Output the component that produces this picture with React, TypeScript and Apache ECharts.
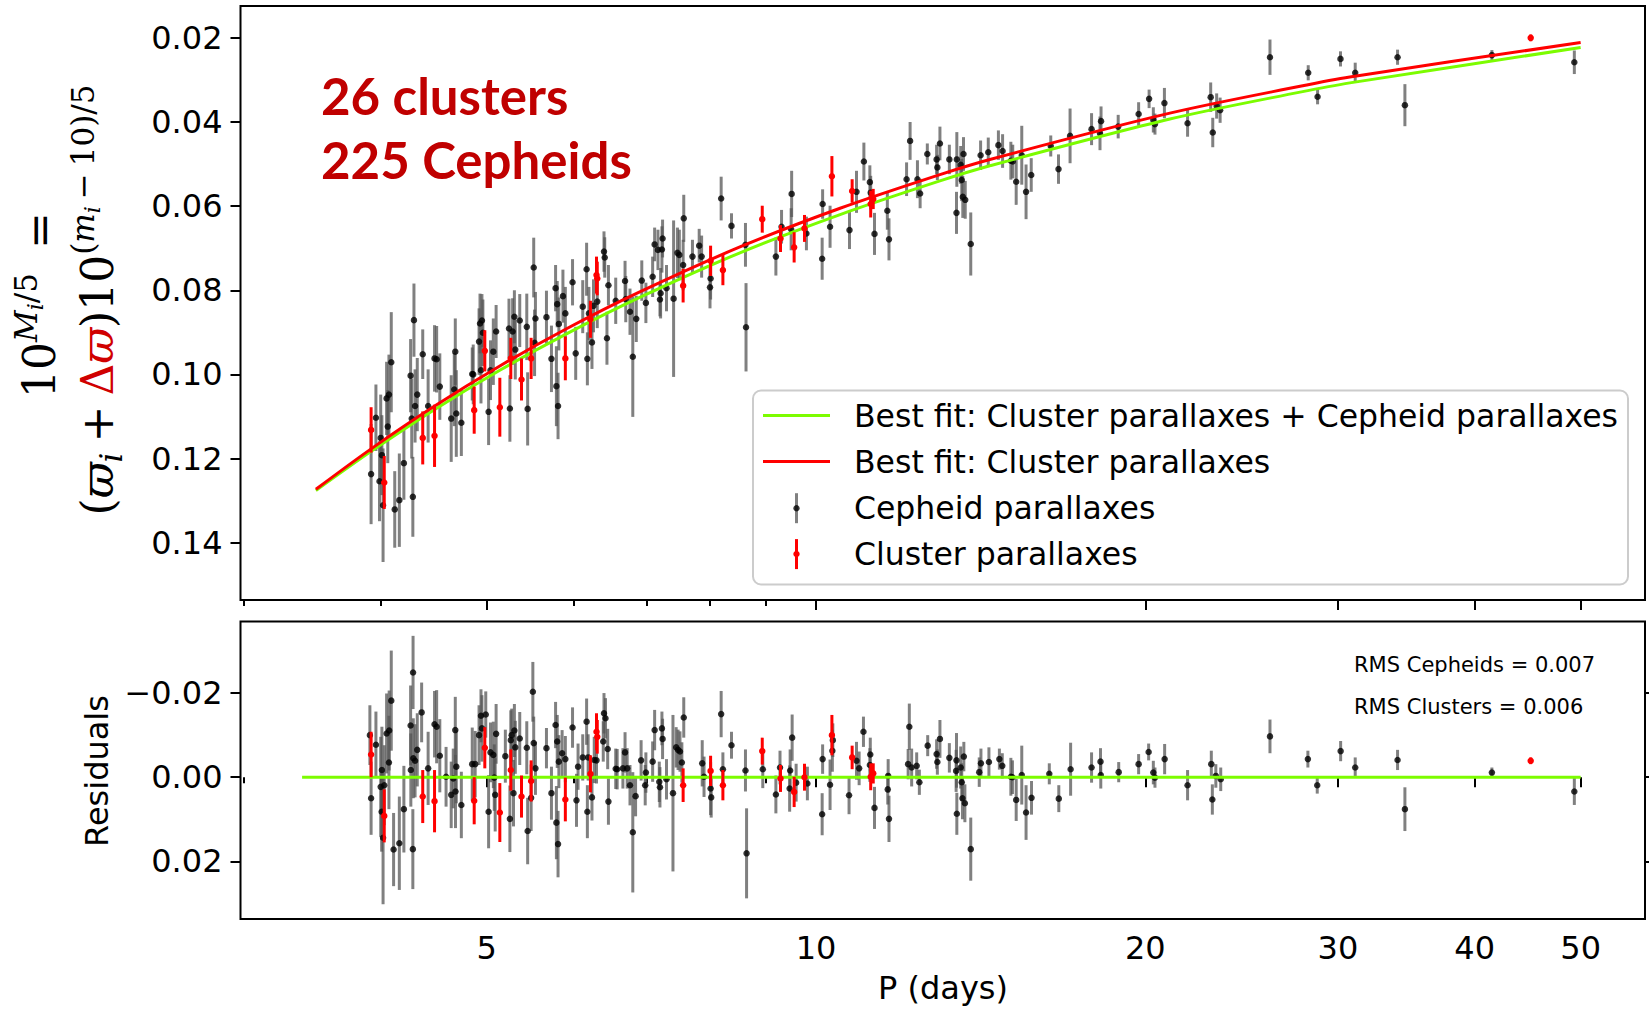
import React, { useEffect, useRef } from "react";
import * as echarts from "echarts";

// ---------- Top panel: Cepheid parallaxes (P in days, value, error) ----------
const cephP = [
  3.92, 3.96, 4.0, 4.01, 3.99, 4.02, 4.05, 4.07, 4.06, 4.09,
  4.12, 4.16, 4.2, 4.26, 4.27, 4.28, 4.29, 4.3, 4.32, 4.37,
  4.42, 4.48, 4.5, 4.53, 4.64, 4.67, 4.68, 4.69, 4.74, 4.85,
  4.86, 4.92, 4.93, 4.95, 4.94, 4.96, 5.02, 5.04, 5.07, 5.1,
  5.25, 5.24, 5.28, 5.3, 5.31, 5.36, 5.44, 5.45, 5.52, 5.54,
  5.53, 5.67, 5.73, 5.79, 5.81, 5.78, 5.8, 5.87, 5.82, 5.9,
  5.99, 6.03, 6.12, 6.17, 6.18, 6.2, 6.24, 6.26, 6.31, 6.4,
  6.41, 6.46, 6.44, 6.56, 6.69, 6.7, 6.76, 6.8, 6.85, 6.93,
  6.99, 7.09, 7.12, 7.17,
  7.2, 7.21, 7.23, 7.24, 7.3, 7.41, 7.47, 7.5, 7.57, 7.56,
  7.71, 7.82, 7.86, 8.0, 8.01, 8.19, 8.37, 8.63, 8.62, 9.19,
  9.3, 9.5, 9.49, 9.8, 10.14, 10.13, 10.3, 10.73, 10.89, 11.06,
  11.2, 11.22, 11.31, 11.62, 11.66, 12.1, 12.19, 12.38, 12.45, 12.64,
  12.89, 12.91, 12.98, 13.24, 13.45, 13.44, 13.56, 13.59, 13.62, 13.69,
  13.64, 13.85, 14.14, 14.37, 14.68,
  14.81, 15.07, 15.13, 15.24, 15.42, 15.56, 15.73, 16.39, 16.66, 17.07,
  17.86, 18.18, 18.22, 18.89, 19.72, 20.16, 20.34, 20.41, 20.82, 21.86,
  22.95, 23.05, 23.24, 23.41, 26.0,
  28.18, 28.74, 30.16, 31.11, 34.01, 34.54, 41.48, 49.34,
];
const cephY = [
  0.1237, 0.1103, 0.1151, 0.1192, 0.1254, 0.1311, 0.1057, 0.1048, 0.1124, 0.0971,
  0.1321, 0.1299, 0.1211, 0.1003, 0.1105, 0.1291, 0.0871, 0.1075, 0.1048, 0.0952,
  0.1075, 0.0962, 0.0964, 0.1029, 0.1105, 0.1036, 0.0946, 0.1093, 0.1115, 0.0999,
  0.1, 0.0922, 0.0879, 0.0872, 0.099, 0.0901, 0.1089, 0.099, 0.0946, 0.0898,
  0.1081, 0.0891, 0.0898, 0.0863, 0.0941, 0.0872, 0.0887, 0.1082, 0.0746, 0.0867,
  0.0925, 0.0864, 0.0963, 0.1028, 0.1075, 0.0795, 0.0833, 0.0814, 0.088, 0.0855,
  0.0781, 0.095, 0.0839, 0.075, 0.0963, 0.0855, 0.0924, 0.0837, 0.0827, 0.0708,
  0.0722, 0.0788, 0.0914, 0.0825, 0.0778, 0.0821, 0.0851, 0.0958, 0.0868, 0.0777,
  0.083, 0.0768, 0.0691, 0.0704,
  0.0822, 0.0807, 0.0703, 0.0677, 0.0795, 0.082, 0.0711, 0.0716, 0.0629, 0.074,
  0.072, 0.0694, 0.072, 0.0793, 0.0772, 0.0582, 0.0647, 0.0888, 0.0692, 0.072,
  0.0649, 0.0571, 0.0655, 0.0665, 0.0595, 0.0725, 0.0649, 0.0657, 0.0566, 0.0494,
  0.0543, 0.0568, 0.0666, 0.0611, 0.0679, 0.0536, 0.0445, 0.0536, 0.057, 0.0476,
  0.0489, 0.0508, 0.0451, 0.0489, 0.0489, 0.0616, 0.0502, 0.0538, 0.0578, 0.0585,
  0.0476, 0.069, 0.0479, 0.0472, 0.0455,
  0.0469, 0.0492, 0.0494, 0.0542, 0.0479, 0.0566, 0.0526, 0.0457, 0.0512, 0.0433,
  0.0417, 0.0427, 0.0398, 0.0411, 0.0381, 0.0345, 0.0395, 0.0405, 0.0355, 0.0403,
  0.0341, 0.0425, 0.0362, 0.0372, 0.0246,
  0.0283, 0.034, 0.025, 0.0283, 0.0246, 0.036, 0.0241, 0.0258,
];
const cephErr = [
  0.0119, 0.0079, 0.0103, 0.0095, 0.0095, 0.0135, 0.0087, 0.0095, 0.0087, 0.0119,
  0.0091, 0.0111, 0.0087, 0.0087, 0.0095, 0.0095, 0.0087, 0.0087, 0.0087, 0.0059,
  0.0087, 0.0079, 0.0079, 0.0079, 0.0103, 0.0087, 0.0079, 0.0103, 0.0079, 0.0063,
  0.0071, 0.0079, 0.0071, 0.0063, 0.0079, 0.0079, 0.0079, 0.0071, 0.0079, 0.0063,
  0.0079, 0.0071, 0.0079, 0.0063, 0.0071, 0.0063, 0.0079, 0.0087, 0.0071, 0.0063,
  0.0079, 0.0063, 0.0079, 0.0095, 0.0079, 0.0055, 0.0055, 0.0063, 0.0063, 0.0063,
  0.0055, 0.0063, 0.0063, 0.0063, 0.0063, 0.0063, 0.0063, 0.0063, 0.0063, 0.0048,
  0.0048, 0.0048, 0.0063, 0.0055, 0.0048, 0.0055, 0.0055, 0.0143, 0.0055, 0.0048,
  0.0048, 0.0048, 0.004, 0.0048,
  0.004, 0.006, 0.0055, 0.0045, 0.0055, 0.0186, 0.006, 0.006, 0.0056, 0.006,
  0.004, 0.004, 0.005, 0.005, 0.005, 0.0052, 0.003, 0.0105, 0.0052, 0.0045,
  0.004, 0.0055, 0.005, 0.004, 0.0035, 0.005, 0.005, 0.0045, 0.005, 0.0045,
  0.004, 0.004, 0.005, 0.0045, 0.005, 0.004, 0.0045, 0.0045, 0.0035, 0.0025,
  0.0035, 0.003, 0.004, 0.0035, 0.0065, 0.005, 0.0045, 0.005, 0.005, 0.0045,
  0.004, 0.0075, 0.0035, 0.0035, 0.0035,
  0.004, 0.0045, 0.004, 0.0055, 0.007, 0.0065, 0.004, 0.0025, 0.0035, 0.0065,
  0.0038, 0.004, 0.0035, 0.0028, 0.0028, 0.0022, 0.003, 0.0025, 0.0036, 0.0032,
  0.0035, 0.0035, 0.003, 0.003, 0.0042,
  0.0018, 0.0018, 0.0018, 0.0024, 0.0018, 0.005, 0.0012, 0.0028,
];

// ---------- Top panel: cluster parallaxes ----------
const clusP = [
  3.92, 4.03, 4.37, 4.48, 4.87, 4.98, 5.14, 5.26, 5.38, 5.49,
  5.9, 6.22, 6.3, 6.31, 7.56, 8.01, 8.22, 8.93, 9.28, 9.55,
  9.76, 10.34, 10.79, 11.22, 11.28, 45.01,
];
const clusY = [
  0.1132, 0.1257, 0.1151, 0.1146, 0.1085, 0.0944, 0.1078, 0.0962, 0.1012, 0.0962,
  0.0962, 0.0869, 0.0764, 0.0772, 0.0789, 0.073, 0.0752, 0.0631, 0.0677, 0.0698,
  0.0653, 0.0529, 0.0564, 0.0595, 0.0583, 0.02,
];
const clusErr = [
  0.0054, 0.0063, 0.0063, 0.0074, 0.0056, 0.0049, 0.007, 0.0049, 0.005, 0.0049,
  0.0052, 0.0044, 0.0044, 0.004, 0.004, 0.0036, 0.0036, 0.0032, 0.0032, 0.0036,
  0.0032, 0.0048, 0.0028, 0.0032, 0.0024, 0.0008,
];

// ---------- Best-fit curves ----------
const fitP = [3.49, 3.92, 4.47, 5.14, 5.92, 6.9, 8.52, 10.52, 12.98, 14.42, 21.06, 27.7, 30.76, 50.0];
const fitBoth = [0.1276, 0.1183, 0.1085, 0.099, 0.0903, 0.0817, 0.0711, 0.062, 0.054, 0.0504, 0.0393, 0.0329, 0.0307, 0.0223];
const fitClusters = [0.1273, 0.1177, 0.1077, 0.098, 0.0891, 0.0804, 0.0697, 0.0605, 0.0525, 0.0489, 0.0379, 0.0315, 0.0293, 0.0211];

// ---------- Bottom panel: residuals of Cepheids ----------
const resP = [
  3.92, 3.91, 3.96, 4.0, 4.01, 4.008, 4.02, 4.03, 4.05, 4.07,
  4.072, 4.09, 4.11, 4.16, 4.2, 4.26, 4.262, 4.28, 4.282, 4.284,
  4.3, 4.32, 4.36, 4.42, 4.48, 4.5, 4.53, 4.59, 4.64, 4.66,
  4.68, 4.682, 4.69, 4.74, 4.85, 4.88, 4.92, 4.94, 4.95, 4.99,
  5.02, 5.04, 5.07, 5.08, 5.09, 5.1, 5.2, 5.25, 5.26, 5.27,
  5.29, 5.3, 5.31, 5.36, 5.44, 5.45, 5.49, 5.51, 5.52, 5.54,
  5.67, 5.73, 5.78, 5.79, 5.8, 5.81, 5.82, 5.86, 5.9, 5.99,
  6.04, 6.06, 6.12, 6.17, 6.18, 6.19, 6.24, 6.27, 6.3, 6.39,
  6.4, 6.42, 6.45, 6.46, 6.56, 6.58, 6.66, 6.69, 6.72, 6.76,
  6.8, 6.84, 6.92, 6.98, 6.99, 7.09, 7.12, 7.19, 7.2, 7.23,
  7.24, 7.3, 7.4, 7.45, 7.48, 7.51, 7.54, 7.57,
  7.87, 7.9, 8.01, 8.02, 8.19, 8.22, 8.37, 8.62, 8.64, 8.94,
  9.19, 9.27, 9.47, 9.46, 9.51, 9.59, 9.82, 10.14, 10.13, 10.3,
  10.35, 10.36, 10.72, 10.89, 10.95, 11.05, 11.21, 11.2, 11.31, 11.63,
  11.66, 11.64, 12.14, 12.17, 12.23, 12.36, 12.43, 12.65, 12.89, 12.91,
  12.98, 13.24, 13.44, 13.43, 13.45, 13.56, 13.59, 13.65, 13.61, 13.68,
  13.85, 14.1, 14.15, 14.39, 14.71, 14.8, 15.07, 15.12, 15.24, 15.42,
  15.56, 15.74, 16.34, 16.67, 17.09, 17.86, 18.2, 18.21, 18.91, 19.72,
  20.14, 20.34, 20.41, 20.83, 21.86, 22.98, 23.03, 23.2, 23.44, 26.0,
  28.16, 28.72, 30.17, 31.11, 34.01, 34.54, 41.48, 49.34,
];
const resV = [
  0.005, -0.01, -0.0077, 0.0023, -0.0017, 0.0082, 0.0144, 0.0019, -0.0104, -0.0035,
  -0.0111, -0.0182, 0.0172, 0.0157, 0.0076, -0.0123, -0.0017, 0.0171, -0.0249, -0.0045,
  -0.0039, -0.0065, -0.0154, -0.0021, -0.0126, -0.012, -0.0051, -0.0001, 0.0042, 0.0003,
  -0.0112, 0.0034, -0.0025, 0.0066, -0.0031, -0.0031, -0.01, -0.0146, -0.0116, -0.0149,
  0.0082, -0.0059, -0.0053, 0.0001, 0.0042, -0.0103, -0.005, 0.0099, -0.0088, -0.01,
  0.0038, -0.0111, -0.0071, -0.0092, -0.007, 0.0128, 0.0049, -0.0203, -0.0081, -0.0021,
  -0.0069, 0.0038, -0.0124, 0.0108, -0.0085, 0.0159, -0.0037, -0.0057, -0.0043, -0.0118,
  0.0055, -0.0025, -0.0047, -0.0132, 0.0082, -0.0047, 0.0048, -0.0041, -0.004, -0.0085,
  -0.0152, -0.014, -0.0067, 0.0058, -0.002, -0.0019, -0.0021, -0.0059, -0.0021, 0.0019,
  0.0131, 0.0045, -0.004, 0.0019, -0.0011, -0.0037, -0.0112, 0.0011, 0.0024, -0.0116,
  -0.0091, 0.0005, 0.0038, -0.0071, -0.0065, -0.0061, -0.0035, -0.0142,
  -0.0033, -0.0001, 0.0027, 0.0048, -0.015, -0.0019, -0.0076, -0.0016, 0.0181, -0.0019,
  0.0041, -0.0023, -0.0016, 0.0027, -0.0094, 0.0013, 0.0015, -0.0043, 0.0088, 0.0018,
  -0.0063, -0.0088, 0.0043, -0.0039, -0.0021, -0.0108, -0.0054, -0.0029, 0.0073, 0.0029,
  0.0099, -0.0003, -0.0031, -0.012, -0.0023, -0.0027, 0.0012, -0.0075, -0.0055, -0.0036,
  -0.0091, -0.0046, -0.004, -0.0015, 0.0087, -0.0023, 0.0012, -0.0049, 0.005, 0.0062,
  0.0171, -0.0012, -0.0033, -0.0036, -0.0043, -0.0027, -0.0001, 0.0, 0.0054, -0.0005,
  0.0084, 0.0049, -0.0008, 0.0051, -0.0019, -0.0023, -0.0037, -0.0005, -0.0012, -0.0031,
  -0.006, -0.0011, 0.0001, -0.0043, 0.0019, -0.0031, 0.0053, -0.0003, 0.0005, -0.0097,
  -0.0043, 0.0019, -0.0062, -0.0023, -0.0041, 0.0076, -0.0011, 0.0034,
];
const resErr = [
  0.0087, 0.0071, 0.0079, 0.0119, 0.0103, 0.0095, 0.0158, 0.0095, 0.0095, 0.0111,
  0.0095, 0.0119, 0.0087, 0.0111, 0.0103, 0.0095, 0.0087, 0.0095, 0.0087, 0.0095,
  0.0087, 0.0087, 0.0071, 0.0087, 0.0079, 0.0087, 0.0087, 0.0071, 0.0079, 0.0071,
  0.0079, 0.0087, 0.0087, 0.0079, 0.0087, 0.0079, 0.0071, 0.0063, 0.0079, 0.0055,
  0.0087, 0.0071, 0.0079, 0.0079, 0.0087, 0.0071, 0.0063, 0.0079, 0.0071, 0.0063,
  0.0079, 0.0063, 0.0063, 0.0063, 0.0063, 0.0079, 0.0079, 0.0071, 0.0063, 0.0063,
  0.0048, 0.0063, 0.0055, 0.0087, 0.0063, 0.0079, 0.0063, 0.0055, 0.0055, 0.0048,
  0.0063, 0.0055, 0.0055, 0.0055, 0.0063, 0.0055, 0.0055, 0.0055, 0.0055, 0.0048,
  0.0048, 0.0048, 0.0048, 0.0055, 0.0048, 0.0048, 0.0048, 0.0048, 0.0048, 0.0048,
  0.0143, 0.0048, 0.0048, 0.0048, 0.0048, 0.0048, 0.0048, 0.0048, 0.0048, 0.004,
  0.0048, 0.0048, 0.0186, 0.0048, 0.0048, 0.0048, 0.0048, 0.0048,
  0.0055, 0.0048, 0.0063, 0.0048, 0.0055, 0.004, 0.0032, 0.005, 0.0107, 0.0045,
  0.0045, 0.004, 0.005, 0.0055, 0.0055, 0.0045, 0.004, 0.0035, 0.005, 0.006,
  0.005, 0.004, 0.0045, 0.0045, 0.004, 0.0036, 0.004, 0.004, 0.005, 0.0036,
  0.0055, 0.004, 0.0036, 0.0055, 0.0045, 0.0032, 0.003, 0.0025, 0.0035, 0.003,
  0.0045, 0.0035, 0.0065, 0.005, 0.005, 0.005, 0.0045, 0.0035, 0.005, 0.0045,
  0.0075, 0.0035, 0.0035, 0.0035, 0.0025, 0.003, 0.0045, 0.004, 0.005, 0.007,
  0.0065, 0.004, 0.0025, 0.0032, 0.0063, 0.0036, 0.0032, 0.0032, 0.0024, 0.0024,
  0.002, 0.0028, 0.0024, 0.0036, 0.0036, 0.0032, 0.0036, 0.0028, 0.0028, 0.004,
  0.002, 0.002, 0.0024, 0.0024, 0.0024, 0.0052, 0.0012, 0.0032,
];

// ---------- Bottom panel: residuals of clusters (same P / errors as clusP) ----------
const resClusV = [
  -0.0054, 0.0092, 0.0046, 0.0057, 0.0056, -0.007, 0.0084, -0.0017, 0.0046, 0.0009,
  0.0053, -0.0008, -0.0108, -0.0096, 0.0019, -0.0015, 0.0019, -0.0062, 0.0003, 0.0035,
  0.0, -0.01, -0.0047, -0.0001, -0.0009, -0.0039,
];
const resLineP = [3.39, 50.0];
const resLineV = [0, 0];

// ---------- Ticks ----------
const xMajorTicks = [5, 10, 20, 30, 40, 50];
const xMinorTicks = [3, 4, 6, 7, 8, 9];
const yTopTicks = [0.02, 0.04, 0.06, 0.08, 0.1, 0.12, 0.14];
const yResTicks = [-0.02, 0, 0.02];

const L = (p: number) => Math.log10(p);
const FONT = "DejaVu Sans";
const SERIF = "DejaVu Serif";

type Piece = { t?: string; size?: number; it?: boolean; color?: string; shift?: number; gap?: number };

// Y-axis label, written as math pieces (text, size, italic, baseline shift)
const ylabelLine1: Piece[] = [
  { t: "10", size: 44 },
  { t: "M", size: 31, it: true, shift: -18 },
  { t: "i", size: 22, it: true, shift: -12 },
  { t: "/5", size: 31, shift: -18 },
  { gap: 24 },
  { t: "=", size: 44 },
];
const ylabelLine2: Piece[] = [
  { t: "(", size: 44 },
  { t: "\u03D6", size: 44, it: true },
  { t: "i", size: 31, it: true, shift: 9 },
  { gap: 10 },
  { t: "+", size: 44 },
  { gap: 10 },
  { t: "\u0394", size: 44, color: "#d00000" },
  { t: "\u03D6", size: 44, it: true, color: "#d00000" },
  { t: ")", size: 44 },
  { t: "10", size: 44 },
  { t: "(", size: 31, shift: -19 },
  { t: "m", size: 31, it: true, shift: -19 },
  { t: "i", size: 22, it: true, shift: -13 },
  { gap: 7 },
  { t: "\u2212", size: 31, shift: -19 },
  { gap: 7 },
  { t: "10", size: 31, shift: -19 },
  { t: ")", size: 31, shift: -19 },
  { t: "/5", size: 31, shift: -19 },
];

function mathGroup(pieces: Piece[], baseX: number, centerY: number) {
  const ctx = document.createElement("canvas").getContext("2d")!;
  let pos = 0;
  const children: any[] = [];
  for (const p of pieces) {
    if (p.gap) {
      pos += p.gap;
      continue;
    }
    const size = p.size || 44;
    const font = `${p.it ? "italic " : ""}${size}px "${SERIF}"`;
    ctx.font = font;
    const w = ctx.measureText(p.t || "").width;
    children.push({
      type: "text",
      x: pos,
      y: (p.shift || 0) - 0.35 * size,
      style: {
        text: p.t,
        fill: p.color || "#000",
        fontSize: size,
        fontFamily: SERIF,
        fontStyle: p.it ? "italic" : "normal",
        align: "left",
        verticalAlign: "middle",
        textAlign: "left",
        textVerticalAlign: "middle",
      },
    });
    pos += w;
  }
  return { type: "group", x: baseX, y: centerY + pos / 2, rotation: Math.PI / 2, z: 50, children };
}

export default function App() {
  const ref = useRef<HTMLDivElement>(null);
  useEffect(() => {
    if (!ref.current) return;
    const chart = echarts.init(ref.current, null, { renderer: "svg" });

    const rows = (P: number[], Y: number[], E: number[]) => P.map((p, i) => [L(p), Y[i], E[i]]);
    const topCeph = rows(cephP, cephY, cephErr);
    const topClus = rows(clusP, clusY, clusErr);
    const botCeph = rows(resP, resV, resErr);
    const botClus = rows(clusP, resClusV, clusErr);

    const errSeries = (data: number[][], xi: number, yi: number, color: string, opacity: number, z: number) => ({
      type: "custom",
      xAxisIndex: xi,
      yAxisIndex: yi,
      silent: true,
      z,
      data,
      encode: { x: 0, y: 1 },
      renderItem: (_p: any, api: any) => {
        const x = api.value(0), y = api.value(1), e = api.value(2);
        const a = api.coord([x, y - e]);
        const b = api.coord([x, y + e]);
        return {
          type: "line",
          shape: { x1: a[0], y1: a[1], x2: b[0], y2: b[1] },
          style: { stroke: color, lineWidth: 3, opacity },
        };
      },
    });
    const dotSeries = (data: number[][], xi: number, yi: number, color: string, opacity: number, z: number) => ({
      type: "scatter",
      xAxisIndex: xi,
      yAxisIndex: yi,
      silent: true,
      z,
      symbolSize: 6.5,
      itemStyle: { color, opacity },
      data: data.map((r) => [r[0], r[1]]),
    });

    const tickLine = { color: "#000", width: 2 };
    const xBase = (grid: number, ticks: number[], len: number, labels: boolean) => ({
      gridIndex: grid,
      type: "value",
      position: "bottom",
      min: 0.4739,
      max: 1.7578,
      axisLine: { show: false },
      splitLine: { show: false },
      axisTick: { show: true, customValues: ticks.map(L), length: len, lineStyle: tickLine },
      axisLabel: labels
        ? {
            show: true,
            customValues: ticks.map(L),
            formatter: (v: number) => String(Math.round(Math.pow(10, v))),
            fontSize: 32,
            fontFamily: FONT,
            color: "#000",
            margin: 13,
          }
        : { show: false },
    });

    const legendRows = [415.6, 461.5, 508.2, 554.1];
    const legendText = (t: string, y: number) => ({
      type: "text",
      x: 854,
      y,
      z: 101,
      style: { text: t, fill: "#000", fontSize: 31.5, fontFamily: FONT, align: "left", verticalAlign: "middle", textAlign: "left", textVerticalAlign: "middle" },
    });

    const option: any = {
      animation: false,
      backgroundColor: "#fff",
      textStyle: { fontFamily: FONT },
      grid: [
        { left: 240.5, top: 6, width: 1404.5, height: 594, show: true, borderColor: "#000", borderWidth: 2, backgroundColor: "transparent", containLabel: false, outerBoundsMode: "none" },
        { left: 240.5, top: 621.6, width: 1404.5, height: 297.5, show: true, borderColor: "#000", borderWidth: 2, backgroundColor: "transparent", containLabel: false, outerBoundsMode: "none" },
      ],
      xAxis: [
        xBase(0, xMajorTicks, 10, false),
        xBase(0, xMinorTicks, 6, false),
        xBase(1, xMajorTicks, 10, true),
        xBase(1, xMinorTicks, 6, false),
      ],
      yAxis: [
        {
          gridIndex: 0,
          type: "value",
          inverse: true,
          min: 0.012426,
          max: 0.153628,
          axisLine: { show: false },
          splitLine: { show: false },
          axisTick: { show: true, customValues: yTopTicks, length: 10, lineStyle: tickLine },
          axisLabel: { show: true, customValues: yTopTicks, formatter: (v: number) => v.toFixed(2), fontSize: 32, fontFamily: FONT, color: "#000", margin: 18 },
        },
        {
          gridIndex: 1,
          type: "value",
          inverse: true,
          min: -0.036988,
          max: 0.033732,
          axisLine: { show: false },
          splitLine: { show: false },
          axisTick: { show: true, customValues: yResTicks, length: 10, lineStyle: tickLine },
          axisLabel: {
            show: true,
            customValues: yResTicks,
            formatter: (v: number) => (v < -1e-9 ? "\u2212" : "") + Math.abs(v).toFixed(2),
            fontSize: 32,
            fontFamily: FONT,
            color: "#000",
            margin: 18,
          },
        },
        {
          gridIndex: 1,
          type: "value",
          position: "right",
          inverse: true,
          min: -0.036988,
          max: 0.033732,
          axisLine: { show: false },
          splitLine: { show: false },
          axisTick: { show: true, customValues: yResTicks, length: 10, lineStyle: tickLine },
          axisLabel: { show: false },
        },
      ],
      series: [
        errSeries(topCeph, 0, 0, "#555555", 0.75, 2),
        dotSeries(topCeph, 0, 0, "#000000", 0.8, 3),
        {
          type: "line", xAxisIndex: 0, yAxisIndex: 0, silent: true, z: 4, smooth: 0.3, symbol: "none",
          lineStyle: { color: "#7cfc00", width: 3 },
          data: fitP.map((p, i) => [L(p), fitBoth[i]]),
        },
        {
          type: "line", xAxisIndex: 0, yAxisIndex: 0, silent: true, z: 4, smooth: 0.3, symbol: "none",
          lineStyle: { color: "#ff0000", width: 3 },
          data: fitP.map((p, i) => [L(p), fitClusters[i]]),
        },
        errSeries(topClus, 0, 0, "#ff0000", 1, 5),
        dotSeries(topClus, 0, 0, "#ff0000", 1, 6),

        errSeries(botCeph, 2, 1, "#555555", 0.75, 2),
        dotSeries(botCeph, 2, 1, "#000000", 0.8, 3),
        {
          type: "line", xAxisIndex: 2, yAxisIndex: 1, silent: true, z: 4, symbol: "none",
          lineStyle: { color: "#7cfc00", width: 3 },
          data: resLineP.map((p, i) => [L(p), resLineV[i]]),
        },
        errSeries(botClus, 2, 1, "#ff0000", 1, 5),
        dotSeries(botClus, 2, 1, "#ff0000", 1, 6),
      ],
      graphic: [
        {
          type: "text", x: 321, y: 95, z: 50,
          style: { text: "26 clusters", fill: "#c00000", fontSize: 51, fontWeight: "bold", fontFamily: "Lato", align: "left", verticalAlign: "middle", textAlign: "left", textVerticalAlign: "middle" },
        },
        {
          type: "text", x: 321, y: 159.5, z: 50,
          style: { text: "225 Cepheids", fill: "#c00000", fontSize: 51, fontWeight: "bold", fontFamily: "Lato", align: "left", verticalAlign: "middle", textAlign: "left", textVerticalAlign: "middle" },
        },
        mathGroup(ylabelLine1, 55, 305),
        mathGroup(ylabelLine2, 113, 300),
        {
          type: "text", x: 97, y: 771, rotation: Math.PI / 2, z: 50,
          style: { text: "Residuals", fill: "#000", fontSize: 32, fontFamily: FONT, align: "center", verticalAlign: "middle", textAlign: "center", textVerticalAlign: "middle" },
        },
        {
          type: "text", x: 943, y: 988, z: 50,
          style: { text: "P (days)", fill: "#000", fontSize: 32, fontFamily: FONT, align: "center", verticalAlign: "middle", textAlign: "center", textVerticalAlign: "middle" },
        },
        {
          type: "text", x: 1354, y: 664.5, z: 50,
          style: { text: "RMS Cepheids = 0.007", fill: "#000", fontSize: 21, fontFamily: FONT, align: "left", verticalAlign: "middle", textAlign: "left", textVerticalAlign: "middle" },
        },
        {
          type: "text", x: 1354, y: 706.7, z: 50,
          style: { text: "RMS Clusters = 0.006", fill: "#000", fontSize: 21, fontFamily: FONT, align: "left", verticalAlign: "middle", textAlign: "left", textVerticalAlign: "middle" },
        },
        // legend
        {
          type: "rect", z: 100,
          shape: { x: 753, y: 390.5, width: 875, height: 194, r: 8 },
          style: { fill: "rgba(255,255,255,0.8)", stroke: "#cccccc", lineWidth: 2 },
        },
        { type: "line", z: 101, shape: { x1: 763, y1: legendRows[0], x2: 830, y2: legendRows[0] }, style: { stroke: "#7cfc00", lineWidth: 3 } },
        { type: "line", z: 101, shape: { x1: 763, y1: legendRows[1], x2: 830, y2: legendRows[1] }, style: { stroke: "#ff0000", lineWidth: 3 } },
        { type: "line", z: 101, shape: { x1: 796.5, y1: legendRows[2] - 15, x2: 796.5, y2: legendRows[2] + 15 }, style: { stroke: "#555555", lineWidth: 3, opacity: 0.75 } },
        { type: "circle", z: 102, shape: { cx: 796.5, cy: legendRows[2], r: 3.2 }, style: { fill: "#000", opacity: 0.8 } },
        { type: "line", z: 101, shape: { x1: 796.5, y1: legendRows[3] - 15, x2: 796.5, y2: legendRows[3] + 15 }, style: { stroke: "#ff0000", lineWidth: 3 } },
        { type: "circle", z: 102, shape: { cx: 796.5, cy: legendRows[3], r: 3.2 }, style: { fill: "#ff0000" } },
        legendText("Best fit: Cluster parallaxes + Cepheid parallaxes", legendRows[0]),
        legendText("Best fit: Cluster parallaxes", legendRows[1]),
        legendText("Cepheid parallaxes", legendRows[2]),
        legendText("Cluster parallaxes", legendRows[3]),
      ],
    };

    chart.setOption(option);
    return () => chart.dispose();
  }, []);

  return (
    <div
      ref={ref}
      style={{ position: "fixed", left: 0, top: 0, width: 1649, height: 1009, background: "#fff" }}
    />
  );
}
